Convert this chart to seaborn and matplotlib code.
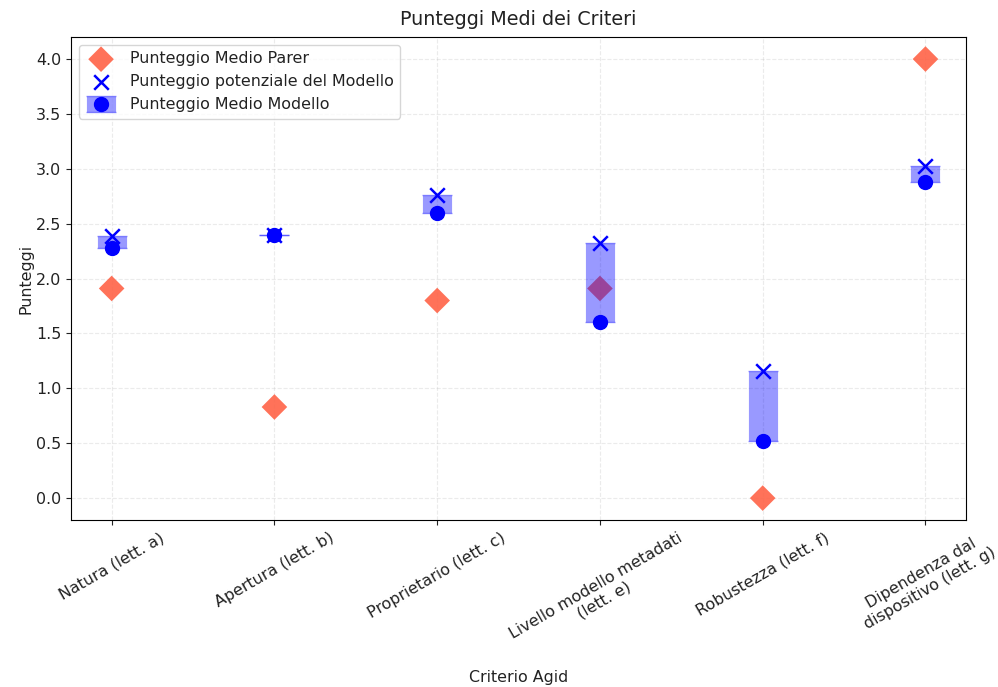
import numpy as np
import pandas as pd
import matplotlib
matplotlib.use("Agg")
import matplotlib.pyplot as plt
import seaborn as sns

categorie = ["Natura (lett. a)", "Apertura (lett. b)", "Proprietario (lett. c)",
             "Livello modello metadati\n(lett. e)", "Robustezza (lett. f)",
             "Dipendenza dal\ndispositivo (lett. g)"]
parer = [1.91, 0.83, 1.80, 1.91, 0.0, 4.0]
potenziale = [2.39, 2.40, 2.76, 2.32, 1.16, 3.03]
medio_modello = [2.28, 2.40, 2.60, 1.60, 0.52, 2.88]

df = pd.DataFrame({"x": np.arange(len(categorie)), "parer": parer,
                   "pot": potenziale, "medio": medio_modello})

plt.rcParams["font.size"] = 11.4
plt.rcParams["text.color"] = "#222222"
plt.rcParams["axes.labelcolor"] = "#222222"
plt.rcParams["xtick.color"] = "#222222"
plt.rcParams["ytick.color"] = "#222222"

fig = plt.figure(figsize=(9.98, 6.87), dpi=100)
ax = fig.add_axes([0.0711, 0.243, 0.897, 0.703])

sns.scatterplot(data=df, x="x", y="parer", marker="D", s=170, color="#FF6347",
                edgecolor="none", alpha=0.9, label="Punteggio Medio Parer", ax=ax, zorder=2)
sns.scatterplot(data=df, x="x", y="pot", marker="x", s=110, color="blue",
                linewidth=1.8, label="Punteggio potenziale del Modello", ax=ax, zorder=3)

yerr = [np.zeros(len(df)), df["pot"].values - df["medio"].values]
ax.errorbar(df["x"], df["medio"], yerr=yerr, fmt="o", color="blue",
            ecolor=(0, 0, 1, 0.4), elinewidth=21, capsize=11, markersize=10,
            label="Punteggio Medio Modello", zorder=4)

ax.set_xticks(df["x"])
ax.set_xticklabels(categorie, rotation=30, ha="center")
ax.set_xlabel("Criterio Agid", labelpad=10)
ax.set_ylabel("Punteggi", labelpad=2)
ax.set_title("Punteggi Medi dei Criteri", fontsize=13.8, pad=9)
ax.grid(True, linestyle="--", linewidth=0.8, alpha=0.25)
ax.margins(0.05)
ax.legend(loc="upper left", fontsize=11.4)

fig.savefig("out.png", dpi=100)
